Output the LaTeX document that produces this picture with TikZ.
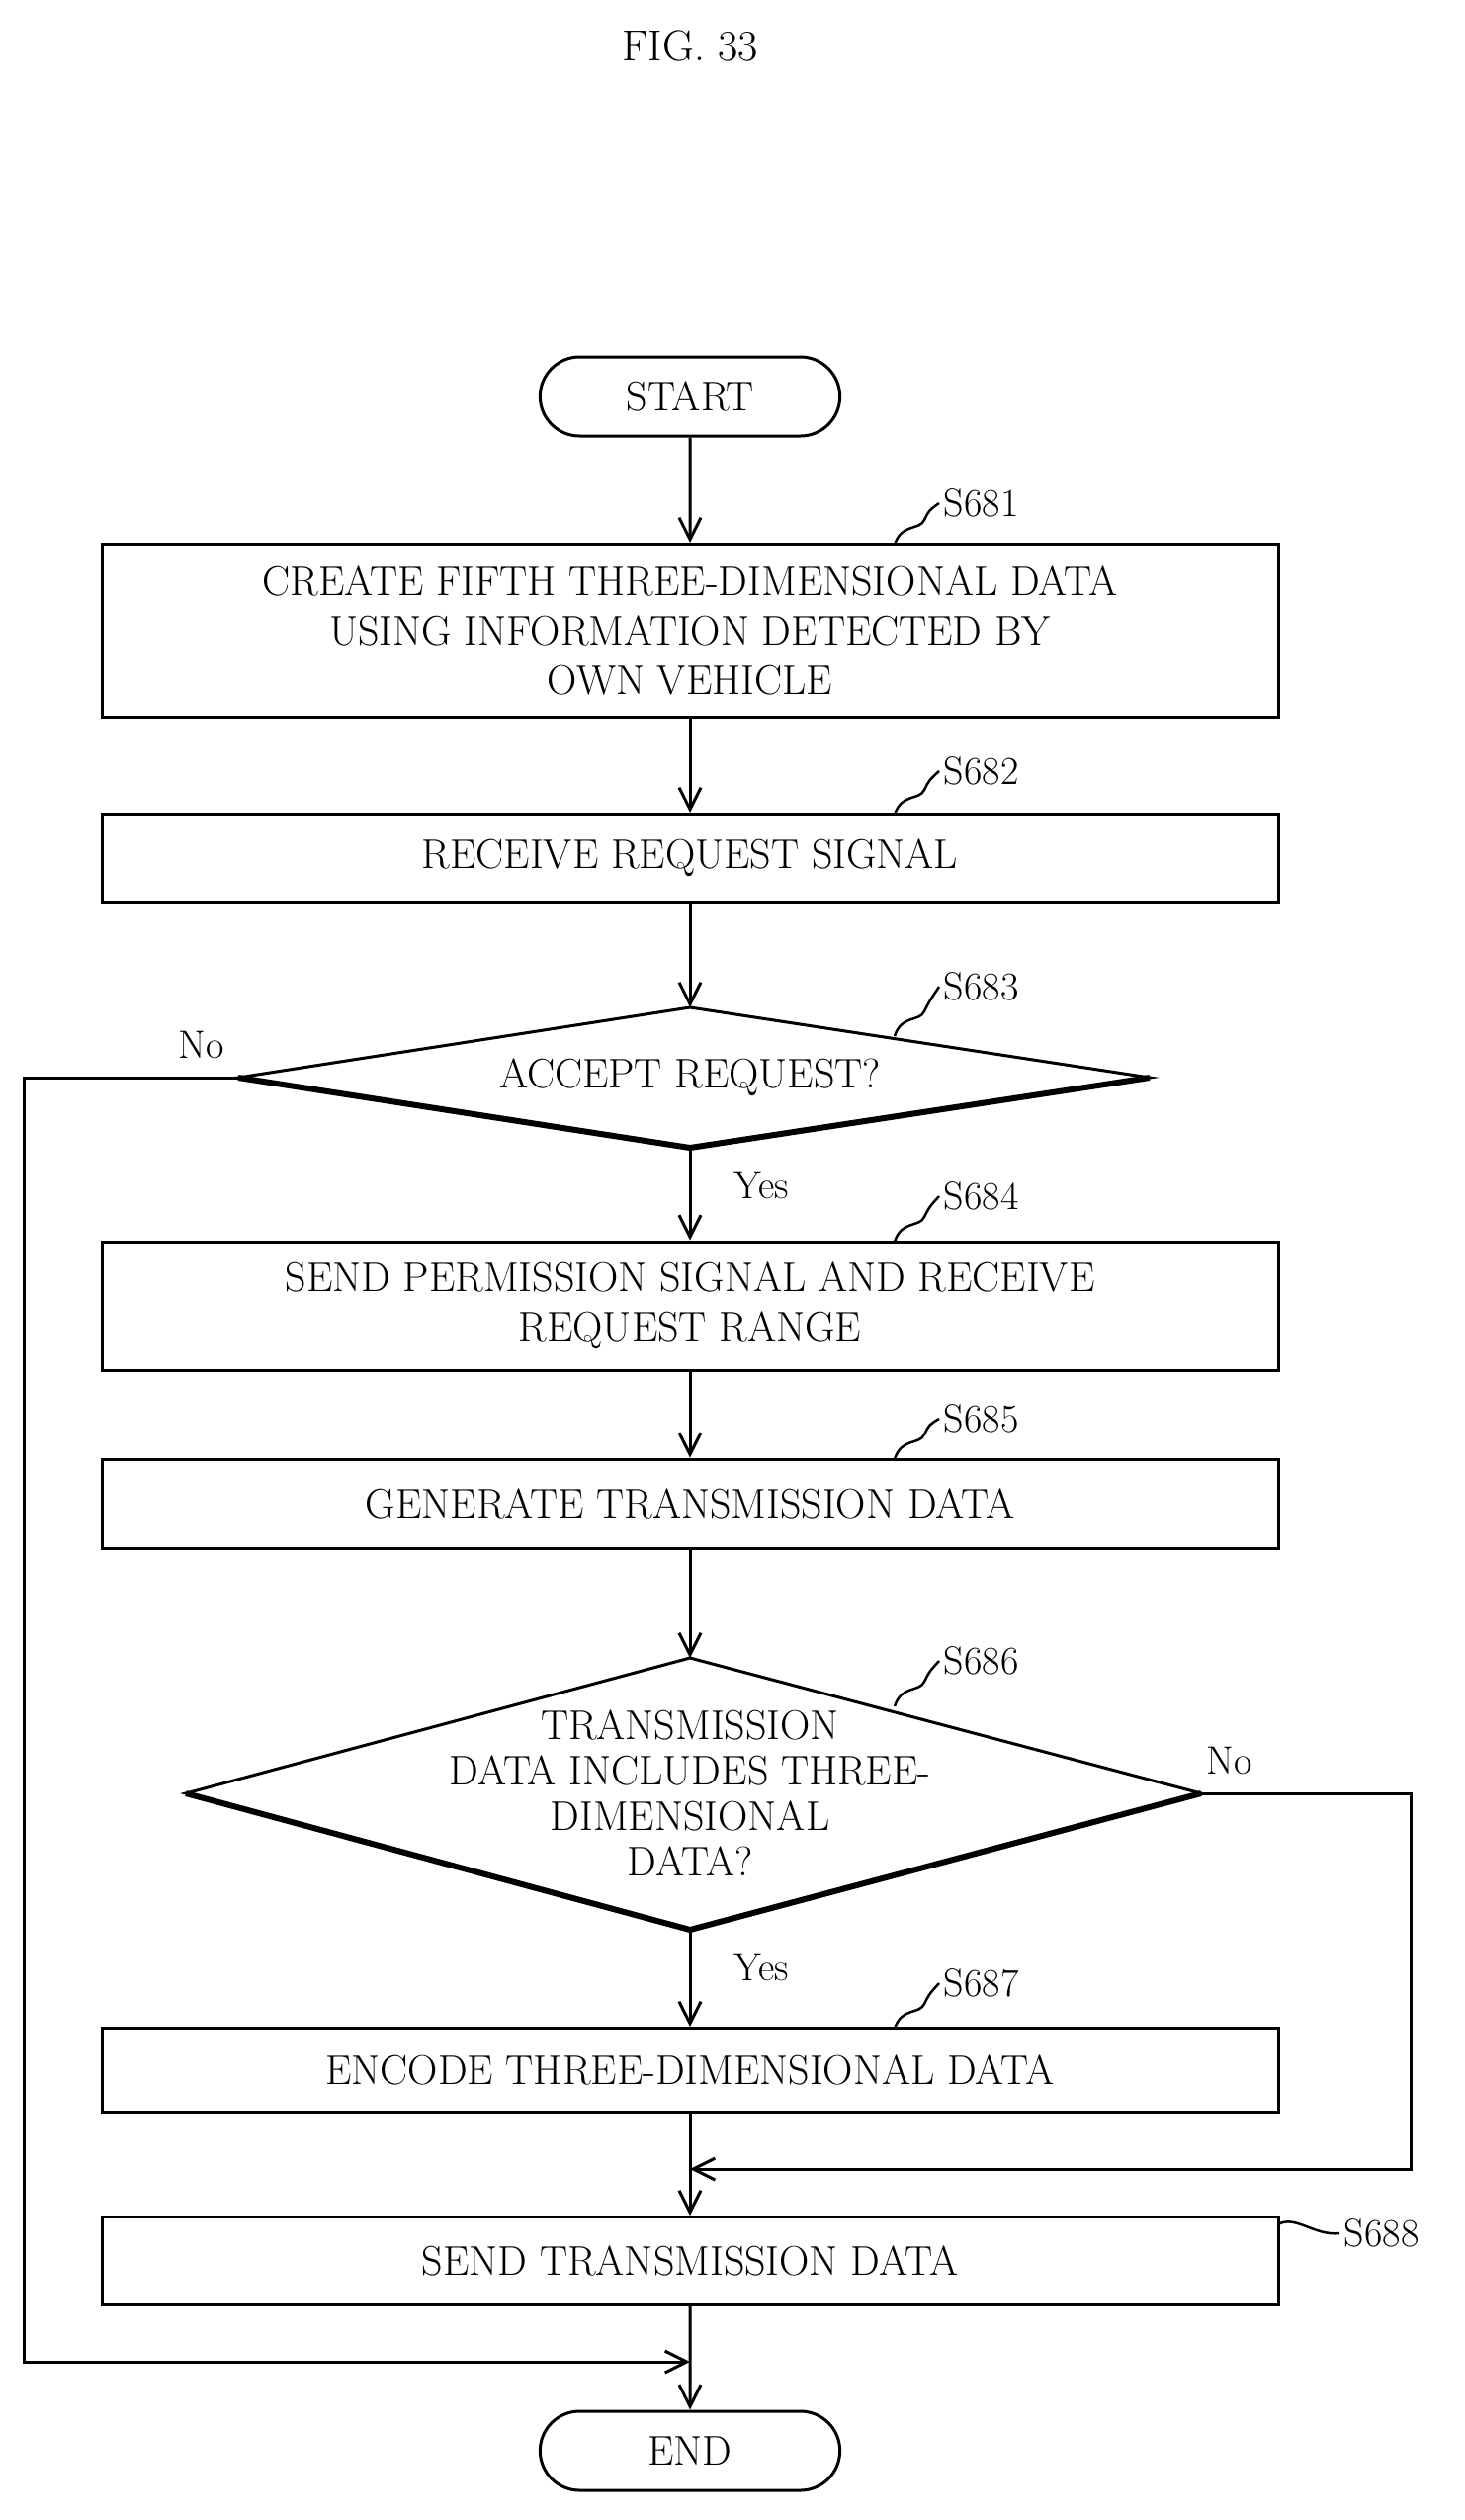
\documentclass[tikz,border=0pt]{standalone}
\usetikzlibrary{shapes.misc,arrows.meta}
\begin{document}
\begin{tikzpicture}[x=1pt,y=1pt,line width=3pt,
  box/.style={draw,rectangle,minimum width=1190pt,align=center,font=\fontsize{42}{50}\selectfont,inner sep=0pt},
  term/.style={draw,rounded rectangle,minimum width=310pt,minimum height=80pt,font=\fontsize{42}{50}\selectfont},
  lab/.style={font=\fontsize{40}{46}\selectfont,anchor=west},
  yn/.style={font=\fontsize{40}{46}\selectfont},
  arr/.style={-{Straight Barb[length=22pt,width=22pt,line width=3pt]}},
  lead/.style={line width=2.5pt}]
\useasboundingbox (0,0) rectangle (1481,-2549);
\node[font=\fontsize{44}{50}\selectfont] (title) at (698,-46) {FIG. 33};
\node[term] (start) at (698,-401) {START};
\node[box,minimum height=175pt] (b1) at (698,-638) {CREATE FIFTH THREE-DIMENSIONAL DATA\\USING INFORMATION DETECTED BY\\OWN VEHICLE};
\node[box,minimum height=89pt] (b2) at (698,-868) {RECEIVE REQUEST SIGNAL};
\coordinate (d1t) at (698,-1019); \coordinate (d1b) at (698,-1161);
\coordinate (d1l) at (241,-1090); \coordinate (d1r) at (1163,-1090);
\draw (d1t)--(d1r)--(d1b)--(d1l)--cycle;
\draw[line width=6pt] (d1l)--(d1b)--(d1r);
\node[font=\fontsize{42}{50}\selectfont] (d1) at (698,-1090) {ACCEPT REQUEST?};
\node[box,minimum height=130pt] (b3) at (698,-1321) {SEND PERMISSION SIGNAL AND RECEIVE\\REQUEST RANGE};
\node[box,minimum height=90pt] (b4) at (698,-1521) {GENERATE TRANSMISSION DATA};
\coordinate (d2t) at (698,-1677); \coordinate (d2b) at (698,-1952);
\coordinate (d2l) at (188,-1814); \coordinate (d2r) at (1215,-1814);
\draw (d2t)--(d2r)--(d2b)--(d2l)--cycle;
\draw[line width=6pt] (d2l)--(d2b)--(d2r);
\node[align=center,font=\fontsize{42}{46}\selectfont] (d2) at (698,-1814) {TRANSMISSION\\DATA INCLUDES THREE-\\DIMENSIONAL\\DATA?};
\node[box,minimum height=85pt] (b5) at (698,-2094) {ENCODE THREE-DIMENSIONAL DATA};
\node[box,minimum height=89pt] (b6) at (698,-2287) {SEND TRANSMISSION DATA};
\node[term] (end) at (698,-2479) {END};
\coordinate (m1) at (698,-2194); \coordinate (m2) at (698,-2389);
\coordinate (r1) at (1427,-1814); \coordinate (r2) at (1427,-2194);
\coordinate (l1) at (24,-1090); \coordinate (l2) at (24,-2389);
\draw[arr] (start)--(b1);
\draw[arr] (b1)--(b2);
\draw[arr] (b2)--(d1t);
\draw[arr] (d1b)--(b3);
\draw[arr] (b3)--(b4);
\draw[arr] (b4)--(d2t);
\draw[arr] (d2b)--(b5);
\draw[arr] (b5)--(b6);
\draw[arr] (b6)--(end);
\draw[arr] (d2r)--(r1)--(r2)--(m1);
\draw[arr] (d1l)--(l1)--(l2)--(m2);
\node[yn] (no1) at (204,-1057) {No};
\node[yn] (yes1) at (770,-1199) {Yes};
\node[yn] (no2) at (1244,-1781) {No};
\node[yn] (yes2) at (770,-1990) {Yes};
% step labels with leaders
\foreach \n/\ty/\ly/\t in {s1/-551/-509/S681,s2/-824/-780/S682,s3/-1048/-998/S683,s4/-1256/-1210/S684,s5/-1476/-1435/S685,s6/-1726/-1680/S686,s7/-2052/-2006/S687}{
  \node[lab] (\n) at (950,\ly) {\t};
  \coordinate (\n a) at (905,\ty);
  \draw[lead] (\n a) .. controls (912,\ty+22) and (930,\ty+14) .. (935,\ty+25) .. controls (940,\ty+35) .. (\n.west);
}
\node[lab] (s8) at (1355,-2259) {S688};
\draw[lead] (1293,-2250) .. controls (1310,-2240) and (1330,-2262) .. (s8.west);
\end{tikzpicture}
\end{document}
